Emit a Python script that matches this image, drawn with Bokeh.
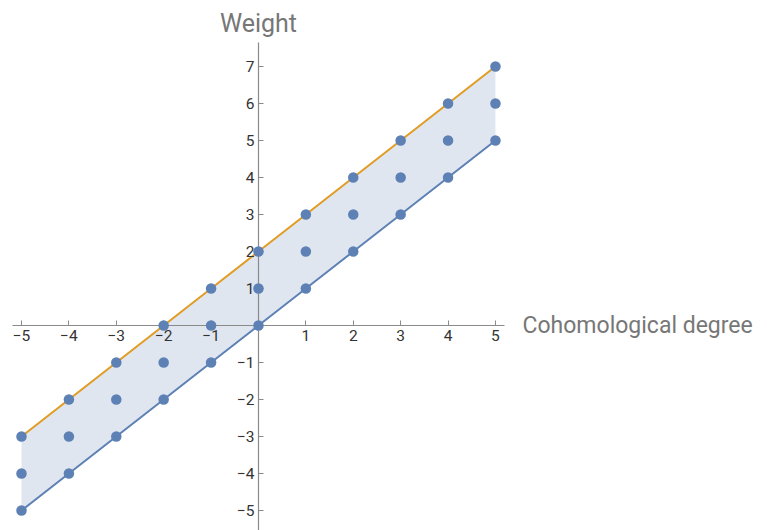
from bokeh.plotting import figure
from bokeh.models import LinearAxis, FixedTicker, Range1d, Label
from bokeh.embed import file_html
from bokeh.resources import INLINE

# Data
degrees = [-5, -4, -3, -2, -1, 0, 1, 2, 3, 4, 5]
weight_low = [-5, -4, -3, -2, -1, 0, 1, 2, 3, 4, 5]
weight_mid = [-4, -3, -2, -1, 0, 1, 2, 3, 4, 5, 6]
weight_high = [-3, -2, -1, 0, 1, 2, 3, 4, 5, 6, 7]
x_ticks = [-5, -4, -3, -2, -1, 1, 2, 3, 4, 5]
y_ticks = [-5, -4, -3, -2, -1, 1, 2, 3, 4, 5, 6, 7]
x_label = "Cohomological degree"
y_label = "Weight"

BLUE = "#5E81B5"
ORANGE = "#E19C24"
AXIS = "#8a8a8a"
FONT = "Roboto"

p = figure(width=767, height=530, output_backend="svg", toolbar_location=None,
           x_range=Range1d(-5.443, 10.74), y_range=Range1d(-5.54, 8.784),
           x_axis_location=None, y_axis_location=None, min_border=0,
           outline_line_color=None)
p.grid.visible = False

def minus(v):
    return str(v).replace("-", "\u2212")

xaxis = LinearAxis(fixed_location=0, ticker=FixedTicker(ticks=x_ticks), bounds=(-5.2, 5.2))
xaxis.major_label_overrides = {t: minus(t) for t in x_ticks}
yaxis = LinearAxis(fixed_location=0, ticker=FixedTicker(ticks=y_ticks), bounds=(-5.6, 7.65))
yaxis.major_label_overrides = {t: minus(t) for t in y_ticks}
for ax in (xaxis, yaxis):
    ax.axis_line_color = AXIS
    ax.axis_line_width = 1.2
    ax.major_tick_line_color = AXIS
    ax.major_tick_in = 5
    ax.major_tick_out = 0
    ax.minor_tick_line_color = None
    ax.major_label_text_font = FONT
    ax.major_label_text_font_size = "15.5px"
    ax.major_label_text_color = "#333333"
    ax.major_label_standoff = 4
p.add_layout(xaxis, "below")
p.add_layout(yaxis, "left")

p.varea(x=degrees, y1=weight_low, y2=weight_high, fill_color=BLUE, fill_alpha=0.2)
p.line(degrees, weight_low, line_color=BLUE, line_width=2)
p.line(degrees, weight_high, line_color=ORANGE, line_width=2)
for ys in (weight_low, weight_mid, weight_high):
    r = p.scatter(degrees, ys, size=10.5, fill_color=BLUE, line_color=None)
    r.level = "overlay"

p.add_layout(Label(x=0, y=8.16, text=y_label, text_align="center", text_baseline="alphabetic",
                   text_font=FONT, text_font_size="25px", text_color="#777777"))
p.add_layout(Label(x=5.57, y=0, text=x_label, text_align="left", text_baseline="middle",
                   text_font=FONT, text_font_size="23px", text_color="#777777"))

open("out.html", "w").write(file_html(p, INLINE))
